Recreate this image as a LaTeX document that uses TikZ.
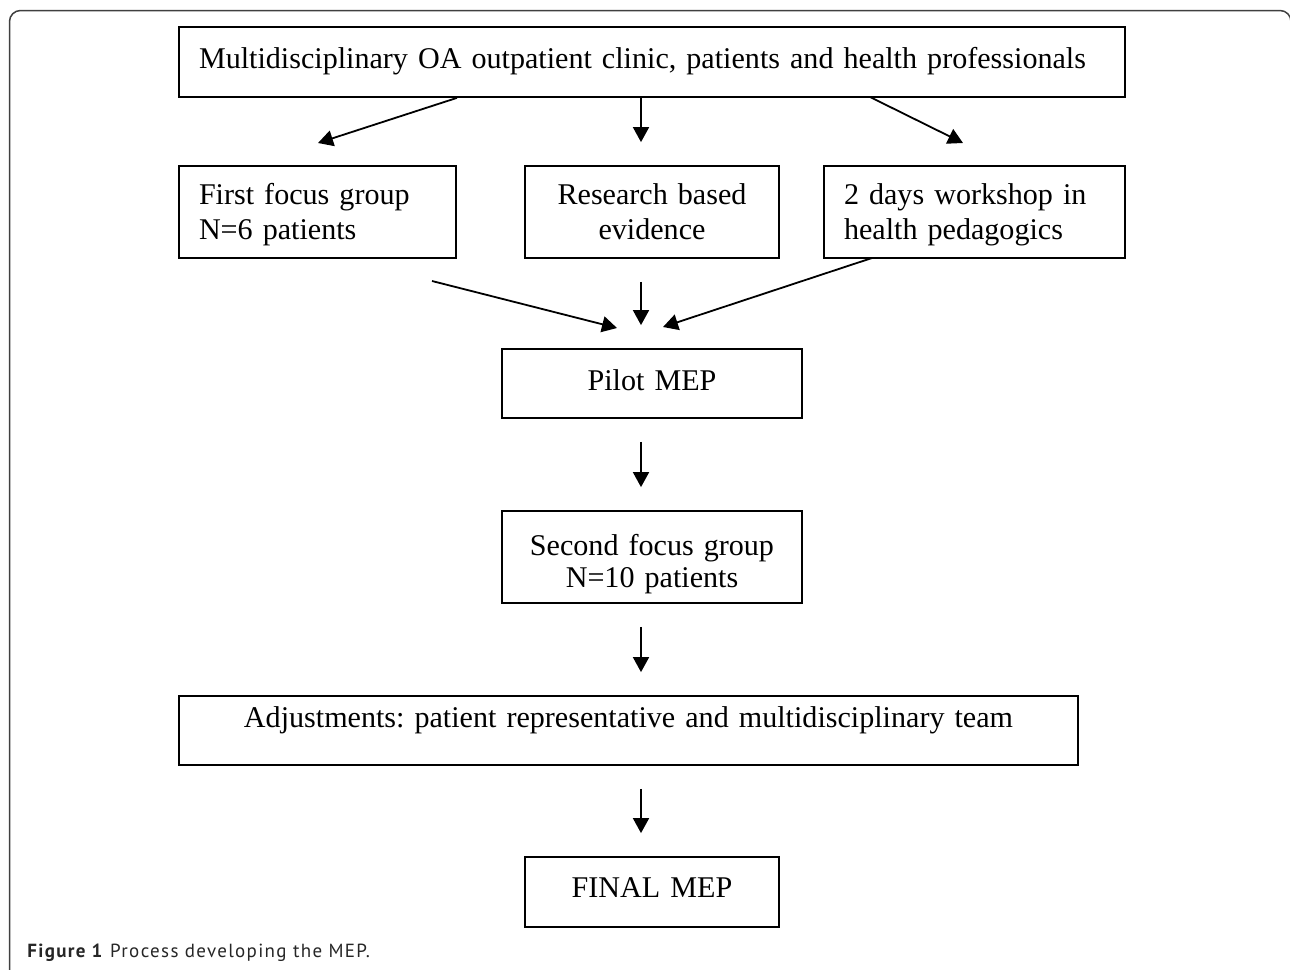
\documentclass[tikz,border=0pt]{standalone}
\usepackage{fontspec}
\setmainfont{Liberation Serif}
\newfontfamily\capfont[LetterSpace=7]{PT Sans}
\usetikzlibrary{arrows.meta}
\frenchspacing
\tikzset{
  block/.style={
    rectangle,
    draw,
    draw=black,
    line width=0.9pt,
    inner xsep=10pt,
    inner ysep=0pt,
    font=\fontsize{15.05}{17.5}\selectfont
  }
}
\tikzstyle{arrow} = [-{Triangle[length=7.5pt,width=8pt]}, line width=0.9pt]
\tikzstyle{gap} = [shorten <=11.5pt, shorten >=11.5pt]

\begin{document}
\begin{tikzpicture}[x=0.5pt, y=-0.5pt]
    \useasboundingbox (0,0) rectangle (1290,969);
    \draw[black!75, line width=0.75pt, rounded corners=5.5pt] (9.5,975) -- (9.5,10.5) -- (1291,10.5) -- (1291,40);
    \node[block, text width=453pt, align=left, text height=20.5pt, text depth=14.5pt] (b0) at (652,62) {Multidisciplinary OA outpatient clinic, patients and health professionals};
    \node[block, text width=118.5pt, align=left, text height=19pt, text depth=27pt] (first) at (317.5,212) {First focus group\\N=6 patients};
    \node[block, text width=107pt, align=center, text height=19pt, text depth=27pt] (research) at (652,212) {Research based\\evidence};
    \node[block, text width=130.5pt, align=left, text height=19pt, text depth=27pt] (workshop) at (974.5,212) {2 days workshop in\\health pedagogics};
    \node[block, text width=130pt, align=center, text height=20.5pt, text depth=14pt] (pilot) at (652,383.5) {Pilot MEP};
    \node[block, text width=130pt, align=center, text height=22pt, text depth=24pt, font=\fontsize{15.05}{16}\selectfont] (second) at (652,557) {Second focus group\\N=10 patients};
    \node[block, text width=429.5pt, align=center, text height=15.5pt, text depth=19pt] (adjust) at (628.5,730.5) {Adjustments: patient representative and multidisciplinary team};
    \node[block, text width=107pt, align=center, text height=20pt, text depth=15pt] (final) at (652,892) {FINAL MEP};
    \node[anchor=base west, inner sep=0pt, text=black!85, font=\capfont\fontsize{9.5}{11}\selectfont] (caption) at (27,957) {\textbf{Figure 1} Process developing the MEP.};
    % arrow ends that do not touch a box
    \coordinate (axis) at (641,0);
    \coordinate (t1) at (318,143);
    \coordinate (s3) at (870,97);
    \coordinate (t3) at (963,143);
    \coordinate (s4) at (432,281);
    \coordinate (t4) at (617,328);
    \coordinate (s6) at (872,258);
    \coordinate (t6) at (663,327);
    \draw[arrow] (b0.south -| first.east) -- (t1);
    \draw[arrow, shorten >=11.5pt] (b0.south -| axis) -- (research.north -| axis);
    \draw[arrow] (s3) -- (t3);
    \draw[arrow] (s4) -- (t4);
    \draw[arrow, gap] (research.south -| axis) -- (pilot.north -| axis);
    \draw[arrow] (s6) -- (t6);
    \draw[arrow, gap] (pilot.south -| axis) -- (second.north -| axis);
    \draw[arrow, gap] (second.south -| axis) -- (adjust.north -| axis);
    \draw[arrow, gap] (adjust.south -| axis) -- (final.north -| axis);
\end{tikzpicture}
\end{document}
